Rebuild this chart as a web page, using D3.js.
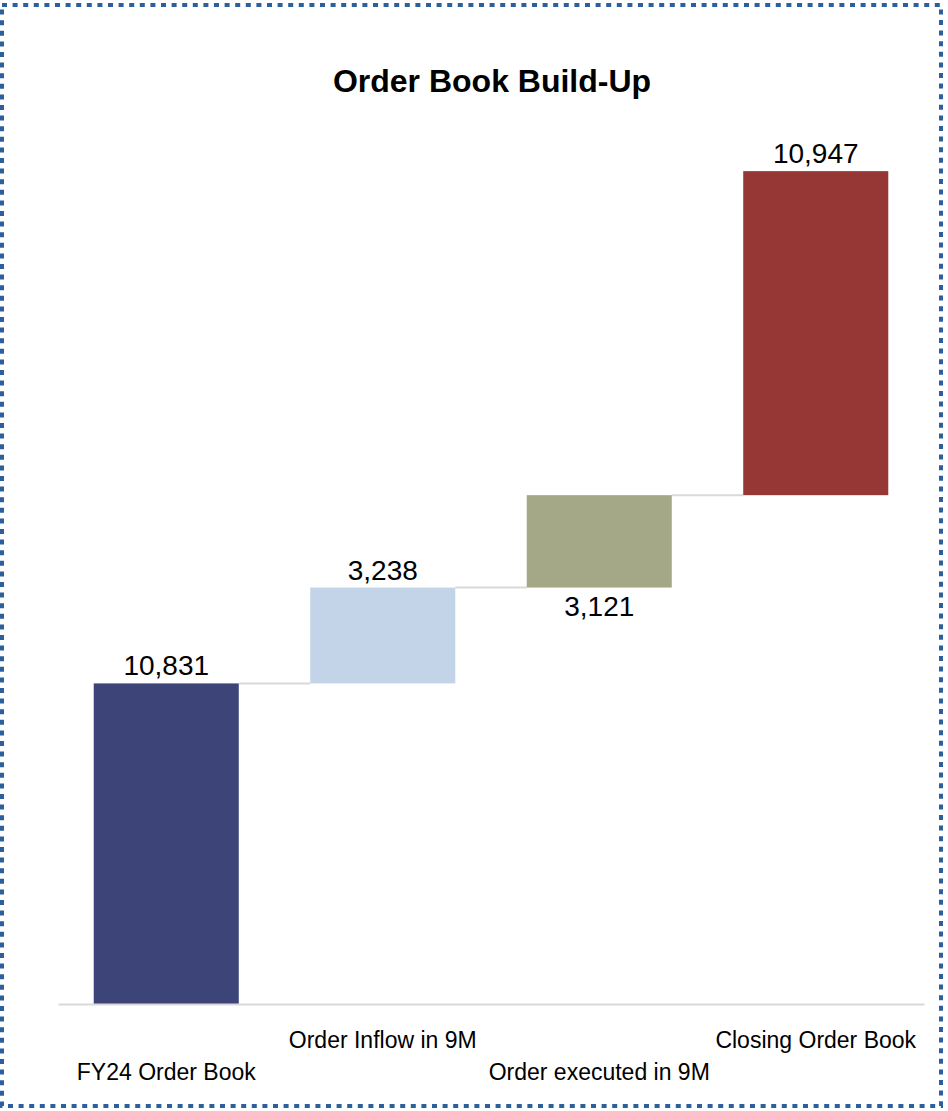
<!DOCTYPE html>
<html>
<head>
<meta charset="utf-8">
<script src="https://cdn.jsdelivr.net/npm/d3@7"></script>
<style>
  body { margin: 0; background: #fff; }
  text { font-family: "Liberation Sans", Arial, sans-serif; }
</style>
</head>
<body>
<div id="chart"></div>
<script>
// waterfall data
const categories = ["FY24 Order Book", "Order Inflow in 9M", "Order executed in 9M", "Closing Order Book"];
const values = [10831, 3238, 3121, 10947];
const barColors = ["#3c4478", "#c3d4e9", "#a4a886", "#963736"];
const labelBelow = [false, false, true, false];

const w = 948, h = 1111;
const svg = d3.select("#chart").append("svg")
  .attr("width", w)
  .attr("height", h);

// dotted frame
svg.append("rect")
  .attr("x", 2).attr("y", 5)
  .attr("width", 939).attr("height", 1101)
  .attr("fill", "none")
  .attr("stroke", "#2b5f9e")
  .attr("stroke-width", 4)
  .attr("stroke-dasharray", "5,5.6");

svg.append("text")
  .attr("x", 492).attr("y", 92)
  .attr("text-anchor", "middle")
  .attr("font-size", 32)
  .attr("font-weight", "bold")
  .attr("fill", "#000")
  .text("Order Book Build-Up");

// stack each bar on top of the previous one (as drawn in the source)
let running = 0;
const bars = values.map(function(v, i) {
  const d = { cat: categories[i], v: v, y0: running, y1: running + v, i: i };
  running += v;
  return d;
});

const xScale = d3.scaleBand()
  .domain(categories)
  .range([58, 924])
  .paddingInner(0.33)
  .paddingOuter(0.165);

const yScale = d3.scaleLinear()
  .domain([0, 30000])
  .range([1004, 116]);

// connectors
svg.selectAll("line.conn")
  .data(bars.slice(0, -1))
  .enter()
  .append("line")
  .attr("class", "conn")
  .attr("x1", d => xScale(d.cat) + xScale.bandwidth())
  .attr("x2", d => xScale(categories[d.i + 1]))
  .attr("y1", d => yScale(d.y1))
  .attr("y2", d => yScale(d.y1))
  .attr("stroke", "#d9d9d9")
  .attr("stroke-width", 2);

svg.selectAll("rect.bar")
  .data(bars)
  .enter()
  .append("rect")
  .attr("class", "bar")
  .attr("x", d => xScale(d.cat))
  .attr("y", d => yScale(d.y1))
  .attr("width", xScale.bandwidth())
  .attr("height", d => yScale(d.y0) - yScale(d.y1))
  .attr("fill", (d, i) => barColors[i]);

// baseline axis
const xAxis = d3.axisBottom(xScale).tickSize(0).tickFormat("");
const axisG = svg.append("g")
  .attr("transform", "translate(0," + yScale(0) + ")")
  .call(xAxis);
axisG.select(".domain").attr("stroke", "#d9d9d9").attr("stroke-width", 2);

const fmt = d3.format(",");
svg.selectAll("text.val")
  .data(bars)
  .enter()
  .append("text")
  .attr("class", "val")
  .attr("x", d => xScale(d.cat) + xScale.bandwidth() / 2)
  .attr("y", d => labelBelow[d.i] ? yScale(d.y0) + 28 : yScale(d.y1) - 8)
  .attr("text-anchor", "middle")
  .attr("font-size", 28)
  .attr("fill", "#000")
  .text(d => fmt(d.v));

// staggered category labels
svg.selectAll("text.cat")
  .data(bars)
  .enter()
  .append("text")
  .attr("class", "cat")
  .attr("x", d => xScale(d.cat) + xScale.bandwidth() / 2)
  .attr("y", d => d.i % 2 === 0 ? 1080 : 1048)
  .attr("text-anchor", "middle")
  .attr("font-size", 23)
  .attr("fill", "#000")
  .text(d => d.cat);
</script>
</body>
</html>
